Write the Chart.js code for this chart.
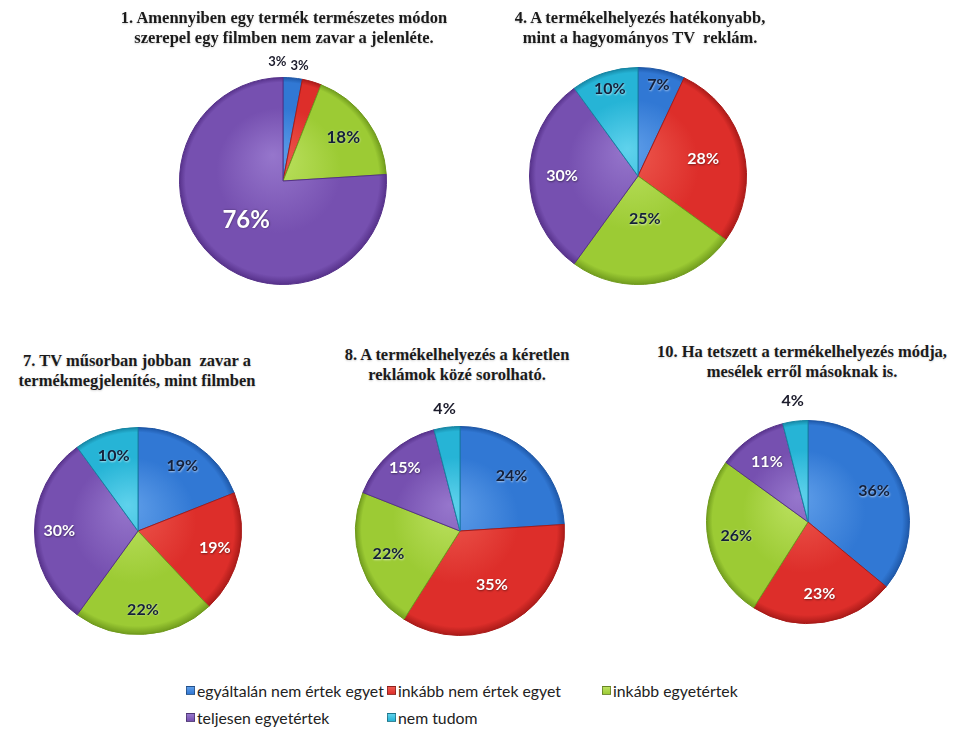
<!DOCTYPE html>
<html>
<head>
<meta charset="utf-8">
<script src="https://cdn.jsdelivr.net/npm/chart.js@4.4.1/dist/chart.umd.min.js"></script>
<style>
  html, body { margin: 0; padding: 0; background: #fff; }
  body { width: 963px; height: 740px; position: relative; overflow: hidden; }
  .title {
    position: absolute; width: 380px; text-align: center; white-space: pre;
    font-family: "Liberation Serif", "Times New Roman", serif; font-weight: bold;
    font-size: 16.5px; line-height: 20px; color: #1b1b1b;
    text-shadow: 0 1px 2px rgba(0,0,0,0.18);
  }
  canvas { position: absolute; }
  #legend {
    position: absolute; left: 186px; top: 680px;
    display: grid; grid-template-columns: 201px 215px auto; row-gap: 7px;
    font-family: Lato, "Open Sans", sans-serif; font-size: 15.8px; color: #222;
  }
  .item { display: flex; align-items: center; height: 20px; white-space: nowrap; }
  .box { width: 7px; height: 7px; margin-right: 2px; border: 1px solid rgba(0,0,0,0.35); }
</style>
</head>
<body>

<div id="legend"></div>

<script>
// answer categories (same for every question)
const categories = ['egyáltalán nem értek egyet', 'inkább nem értek egyet', 'inkább egyetértek', 'teljesen egyetértek', 'nem tudom'];

// percentages per question, in the order of the categories
const q1 = [3, 3, 18, 76, 0];
const q4 = [7, 28, 25, 30, 10];
const q7 = [19, 19, 22, 30, 10];
const q8 = [24, 35, 22, 15, 4];
const q10 = [36, 23, 26, 11, 4];

const titles = {
  q1: ['1. Amennyiben egy termék természetes módon', 'szerepel egy filmben nem zavar a jelenléte.'],
  q4: ['4. A termékelhelyezés hatékonyabb,', 'mint a hagyományos TV  reklám.'],
  q7: ['7. TV műsorban jobban  zavar a', 'termékmegjelenítés, mint filmben'],
  q8: ['8. A termékelhelyezés a kéretlen', 'reklámok közé sorolható.'],
  q10: ['10. Ha tetszett a termékelhelyezés módja,', 'mesélek erről másoknak is.']
};

// slice colours: base, light, border
const baseColors = ['#3178d4', '#dd2e2a', '#9ccb34', '#7650b0', '#26b4d6'];
const lightColors = ['#5f9ee9', '#ee5a50', '#bde262', '#9676cc', '#5fd2ec'];
const edgeColors = ['#1d56a6', '#a81a18', '#6f9a1c', '#553089', '#1585a3'];
const labelColors = ['#14203a', '#ffffff', '#14203a', '#ffffff', '#14203a'];

// legend
const legend = document.getElementById('legend');
categories.forEach((c, i) => {
  const it = document.createElement('div');
  it.className = 'item';
  it.innerHTML = '<span class="box" style="background:linear-gradient(' + lightColors[i] + ',' + baseColors[i] + ')"></span>' + c;
  legend.appendChild(it);
});

// percentage labels drawn on the slices
const pctLabels = {
  id: 'pctLabels',
  afterDatasetsDraw(chart, args, opts) {
    const ctx = chart.ctx;
    const data = chart.data.datasets[0].data;
    chart.getDatasetMeta(0).data.forEach((arc, i) => {
      const v = data[i];
      if (!v) return;
      const p = arc.getProps(['x', 'y', 'startAngle', 'endAngle', 'outerRadius'], true);
      const mid = (p.startAngle + p.endAngle) / 2;
      const outside = v < 5;
      let f = outside ? opts.outFactor : opts.inFactor;
      if (opts.factors && opts.factors[i]) f = opts.factors[i];
      const r = p.outerRadius * f;
      let x = p.x + Math.cos(mid) * r;
      let y = p.y + Math.sin(mid) * r;
      let size = opts.size;
      if (outside) { x += opts.outShift; size = opts.outSize; }
      if (v >= 50) size = opts.bigSize;
      ctx.save();
      ctx.font = 'bold ' + size + 'px Lato, "Open Sans", sans-serif';
      ctx.textAlign = 'center';
      ctx.textBaseline = 'middle';
      const col = outside ? '#1c1c2c' : labelColors[i];
      ctx.shadowColor = col === '#ffffff' ? 'rgba(0,0,0,0.45)' : 'rgba(255,255,255,0.6)';
      ctx.shadowBlur = 2;
      ctx.shadowOffsetX = 0.5;
      ctx.shadowOffsetY = 0.5;
      ctx.fillStyle = col;
      ctx.fillText(v + '%', x, y);
      ctx.restore();
    });
  }
};

// glossy fill like the office pie style
function sliceFill(context) {
  const chart = context.chart;
  const i = context.dataIndex;
  const a = chart.chartArea;
  if (!a) return baseColors[i];
  const cx = (a.left + a.right) / 2, cy = (a.top + a.bottom) / 2;
  const r = Math.min(a.right - a.left, a.bottom - a.top) / 2;
  const g = chart.ctx.createRadialGradient(cx - r * 0.1, cy - r * 0.25, 0, cx, cy, r);
  g.addColorStop(0, lightColors[i]);
  g.addColorStop(0.6, baseColors[i]);
  g.addColorStop(0.93, baseColors[i]);
  g.addColorStop(1, edgeColors[i]);
  return g;
}

function makePie(values, title, cx, cy, r, titleY, titleX, lab) {
  const size = 270;
  const canvas = document.createElement('canvas');
  canvas.width = size;
  canvas.height = size;
  canvas.style.left = (cx - size / 2) + 'px';
  canvas.style.top = (cy - size / 2) + 'px';
  document.body.appendChild(canvas);

  const t = document.createElement('div');
  t.className = 'title';
  t.style.left = (titleX - 190) + 'px';
  t.style.top = titleY + 'px';
  t.textContent = title.join('\n');
  document.body.appendChild(t);

  new Chart(canvas.getContext('2d'), {
    type: 'pie',
    data: {
      labels: categories,
      datasets: [{
        data: values,
        backgroundColor: sliceFill,
        borderColor: edgeColors,
        borderWidth: 1
      }]
    },
    options: {
      responsive: false,
      animation: false,
      layout: { padding: size / 2 - r },
      plugins: {
        legend: { display: false },
        tooltip: { enabled: false },
        pctLabels: Object.assign({ inFactor: 0.72, outFactor: 1.13, outShift: 0, size: 16, outSize: 16, bigSize: 24 }, lab)
      }
    },
    plugins: [pctLabels]
  });
}

makePie(q1, titles.q1, 283, 181, 104, 8, 284, { outSize: 13, outShift: -17, outFactor: 1.16, size: 17, factors: [0, 0, 0, 0.52, 0] });
makePie(q4, titles.q4, 638, 176, 109, 8, 640, { factors: [0.86, 0.62, 0.4, 0.7, 0.84] });
makePie(q7, titles.q7, 138, 531, 104, 351, 137, { inFactor: 0.76 });
makePie(q8, titles.q8, 460, 531, 105, 345, 457, { outFactor: 1.18, factors: [0, 0.6, 0, 0.8, 0] });
makePie(q10, titles.q10, 808, 522, 102, 342, 802, { outFactor: 1.2 });
</script>
</body>
</html>
